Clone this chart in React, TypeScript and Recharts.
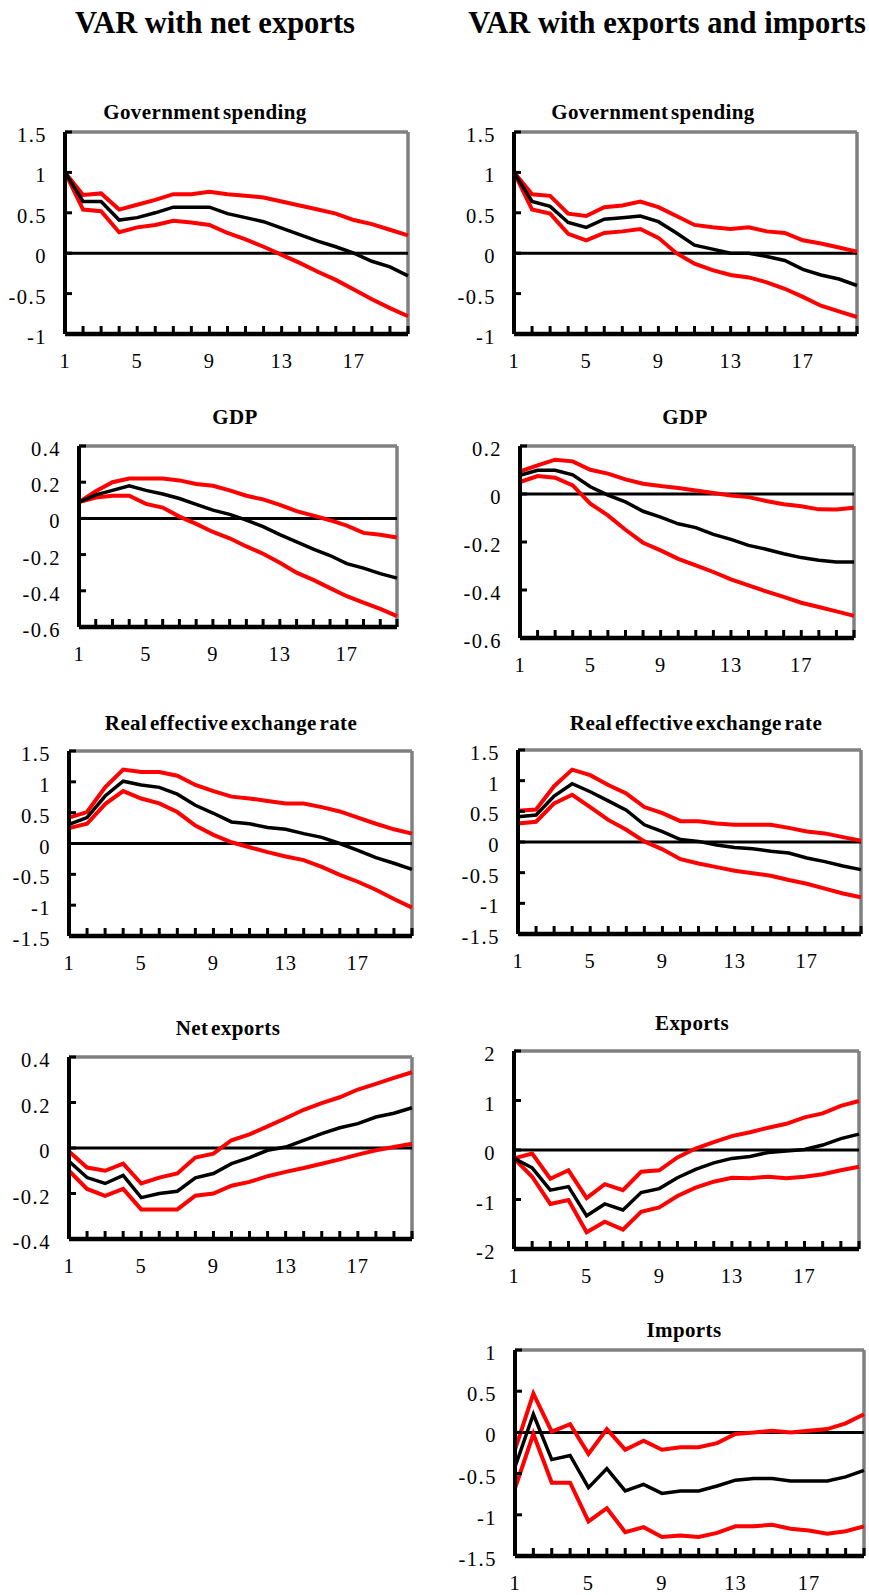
import { LineChart, Line, XAxis, YAxis, ReferenceLine } from 'recharts';

const PERIODS = [1, 2, 3, 4, 5, 6, 7, 8, 9, 10, 11, 12, 13, 14, 15, 16, 17, 18, 19, 20];
const LABELED_PERIODS = [1, 5, 9, 13, 17];

// VAR with net exports
const govNetMid = [1.0, 0.64, 0.64, 0.41, 0.44, 0.5, 0.57, 0.57, 0.57, 0.49, 0.44, 0.39, 0.31, 0.23, 0.15, 0.08, 0.0, -0.1, -0.17, -0.28];
const govNetHi = [1.0, 0.72, 0.74, 0.54, 0.6, 0.66, 0.73, 0.73, 0.76, 0.73, 0.71, 0.69, 0.64, 0.59, 0.54, 0.49, 0.41, 0.36, 0.29, 0.22];
const govNetLo = [1.0, 0.54, 0.52, 0.26, 0.32, 0.35, 0.4, 0.38, 0.35, 0.25, 0.17, 0.08, -0.02, -0.12, -0.23, -0.33, -0.45, -0.57, -0.68, -0.78];

const gdpNetMid = [0.09, 0.13, 0.155, 0.18, 0.155, 0.135, 0.11, 0.077, 0.046, 0.022, -0.01, -0.046, -0.09, -0.13, -0.17, -0.205, -0.25, -0.275, -0.305, -0.33];
const gdpNetHi = [0.09, 0.15, 0.2, 0.22, 0.22, 0.22, 0.21, 0.19, 0.18, 0.155, 0.125, 0.105, 0.075, 0.04, 0.015, -0.01, -0.04, -0.08, -0.09, -0.105];
const gdpNetLo = [0.09, 0.115, 0.125, 0.125, 0.08, 0.06, 0.01, -0.03, -0.075, -0.11, -0.155, -0.195, -0.245, -0.3, -0.34, -0.385, -0.43, -0.465, -0.5, -0.54];

const reerNetMid = [0.31, 0.42, 0.77, 1.01, 0.95, 0.91, 0.8, 0.62, 0.49, 0.35, 0.32, 0.26, 0.23, 0.16, 0.1, 0.0, -0.11, -0.23, -0.32, -0.42];
const reerNetHi = [0.42, 0.51, 0.91, 1.2, 1.16, 1.16, 1.1, 0.95, 0.85, 0.76, 0.73, 0.69, 0.65, 0.65, 0.59, 0.52, 0.42, 0.32, 0.23, 0.16];
const reerNetLo = [0.25, 0.32, 0.64, 0.85, 0.73, 0.65, 0.51, 0.29, 0.14, 0.02, -0.06, -0.14, -0.21, -0.27, -0.38, -0.51, -0.62, -0.75, -0.9, -1.04];

const nxMid = [-0.058, -0.13, -0.156, -0.12, -0.218, -0.2, -0.19, -0.131, -0.112, -0.069, -0.042, -0.01, 0.004, 0.034, 0.063, 0.089, 0.107, 0.136, 0.153, 0.177];
const nxHi = [-0.015, -0.086, -0.1, -0.069, -0.156, -0.13, -0.112, -0.042, -0.025, 0.034, 0.06, 0.095, 0.131, 0.168, 0.197, 0.223, 0.257, 0.282, 0.308, 0.333];
const nxLo = [-0.1, -0.18, -0.21, -0.18, -0.27, -0.27, -0.27, -0.21, -0.2, -0.166, -0.149, -0.124, -0.105, -0.088, -0.069, -0.05, -0.029, -0.01, 0.004, 0.019];

// VAR with exports and imports
const govXmMid = [1.0, 0.64, 0.58, 0.38, 0.32, 0.42, 0.44, 0.46, 0.39, 0.25, 0.1, 0.05, 0.0, 0.0, -0.04, -0.09, -0.2, -0.27, -0.32, -0.4];
const govXmHi = [1.0, 0.73, 0.71, 0.49, 0.46, 0.57, 0.59, 0.64, 0.57, 0.46, 0.35, 0.32, 0.3, 0.32, 0.27, 0.25, 0.16, 0.12, 0.07, 0.02];
const govXmLo = [1.0, 0.54, 0.49, 0.24, 0.16, 0.25, 0.27, 0.3, 0.19, 0.0, -0.13, -0.21, -0.27, -0.3, -0.36, -0.44, -0.54, -0.65, -0.72, -0.79];

const gdpXmMid = [0.078, 0.099, 0.099, 0.08, 0.03, -0.005, -0.033, -0.072, -0.096, -0.124, -0.14, -0.168, -0.189, -0.214, -0.23, -0.249, -0.265, -0.276, -0.283, -0.283];
const gdpXmHi = [0.094, 0.119, 0.143, 0.136, 0.101, 0.085, 0.061, 0.043, 0.033, 0.025, 0.015, 0.004, -0.006, -0.013, -0.029, -0.043, -0.051, -0.064, -0.065, -0.057];
const gdpXmLo = [0.05, 0.075, 0.068, 0.036, -0.04, -0.089, -0.149, -0.203, -0.235, -0.27, -0.297, -0.325, -0.356, -0.381, -0.406, -0.429, -0.453, -0.471, -0.489, -0.508];

const reerXmMid = [0.41, 0.44, 0.75, 0.95, 0.82, 0.67, 0.52, 0.28, 0.17, 0.04, 0.01, -0.05, -0.09, -0.11, -0.15, -0.18, -0.26, -0.32, -0.39, -0.45];
const reerXmHi = [0.51, 0.53, 0.91, 1.18, 1.09, 0.93, 0.79, 0.57, 0.47, 0.34, 0.34, 0.3, 0.28, 0.28, 0.28, 0.23, 0.17, 0.14, 0.08, 0.02];
const reerXmLo = [0.3, 0.33, 0.63, 0.77, 0.57, 0.36, 0.2, 0.01, -0.12, -0.28, -0.35, -0.41, -0.47, -0.51, -0.55, -0.62, -0.68, -0.76, -0.84, -0.9];

const exMid = [-0.17, -0.36, -0.81, -0.74, -1.33, -1.09, -1.21, -0.86, -0.78, -0.56, -0.39, -0.26, -0.17, -0.13, -0.05, -0.02, 0.01, 0.1, 0.23, 0.32];
const exHi = [-0.17, -0.07, -0.58, -0.41, -0.97, -0.69, -0.81, -0.44, -0.41, -0.15, 0.03, 0.16, 0.28, 0.36, 0.45, 0.53, 0.66, 0.74, 0.89, 0.99];
const exLo = [-0.17, -0.54, -1.09, -1.01, -1.66, -1.45, -1.61, -1.25, -1.16, -0.93, -0.76, -0.64, -0.56, -0.57, -0.54, -0.57, -0.54, -0.49, -0.41, -0.34];

const imMid = [-0.42, 0.22, -0.33, -0.28, -0.67, -0.44, -0.71, -0.63, -0.74, -0.71, -0.71, -0.65, -0.58, -0.56, -0.56, -0.59, -0.59, -0.59, -0.54, -0.46];
const imHi = [-0.21, 0.47, 0.01, 0.1, -0.26, 0.04, -0.21, -0.1, -0.21, -0.18, -0.18, -0.13, -0.02, 0.0, 0.02, 0.0, 0.02, 0.04, 0.11, 0.22];
const imLo = [-0.68, -0.02, -0.61, -0.61, -1.08, -0.92, -1.21, -1.15, -1.27, -1.25, -1.27, -1.22, -1.14, -1.14, -1.12, -1.17, -1.19, -1.23, -1.2, -1.14];

const TICKS_GOV = [-1, -0.5, 0, 0.5, 1, 1.5];
const TICKS_GDP_NET = [-0.6, -0.4, -0.2, 0, 0.2, 0.4];
const TICKS_GDP_XM = [-0.6, -0.4, -0.2, 0, 0.2];
const TICKS_REER = [-1.5, -1, -0.5, 0, 0.5, 1, 1.5];
const TICKS_NX = [-0.4, -0.2, 0, 0.2, 0.4];
const TICKS_EX = [-2, -1, 0, 1, 2];
const TICKS_IM = [-1.5, -1, -0.5, 0, 0.5, 1];

const FONT = '"Liberation Serif", "Times New Roman", serif';
const RED = '#ff0000';
const GRAY = '#808080';

const ML = 60;
const MT = 8;
const MR = 4;
const MB = 45;

interface Panel {
  title: string;
  mid: number[];
  hi: number[];
  lo: number[];
  ticks: number[];
  // plot box and title centre, in page pixels
  x: number;
  y: number;
  w: number;
  h: number;
  tx: number;
  ty: number;
}

const panels: Panel[] = [
  { title: 'Government spending', mid: govNetMid, hi: govNetHi, lo: govNetLo, ticks: TICKS_GOV, x: 65, y: 132, w: 343, h: 202, tx: 205, ty: 112 },
  { title: 'GDP', mid: gdpNetMid, hi: gdpNetHi, lo: gdpNetLo, ticks: TICKS_GDP_NET, x: 79, y: 446, w: 318, h: 181, tx: 235, ty: 417 },
  { title: 'Real effective exchange rate', mid: reerNetMid, hi: reerNetHi, lo: reerNetLo, ticks: TICKS_REER, x: 69, y: 751, w: 343, h: 185, tx: 231, ty: 723 },
  { title: 'Net exports', mid: nxMid, hi: nxHi, lo: nxLo, ticks: TICKS_NX, x: 69, y: 1057, w: 343, h: 182, tx: 228, ty: 1028 },
  { title: 'Government spending', mid: govXmMid, hi: govXmHi, lo: govXmLo, ticks: TICKS_GOV, x: 514, y: 132, w: 343, h: 202, tx: 653, ty: 112 },
  { title: 'GDP', mid: gdpXmMid, hi: gdpXmHi, lo: gdpXmLo, ticks: TICKS_GDP_XM, x: 520, y: 446, w: 334, h: 192, tx: 685, ty: 417 },
  { title: 'Real effective exchange rate', mid: reerXmMid, hi: reerXmHi, lo: reerXmLo, ticks: TICKS_REER, x: 518, y: 750, w: 343, h: 184, tx: 696, ty: 723 },
  { title: 'Exports', mid: exMid, hi: exHi, lo: exLo, ticks: TICKS_EX, x: 514, y: 1051, w: 345, h: 198, tx: 692, ty: 1023 },
  { title: 'Imports', mid: imMid, hi: imHi, lo: imLo, ticks: TICKS_IM, x: 515, y: 1350, w: 349, h: 206, tx: 684, ty: 1330 },
];

function XTick(props: any) {
  const { x, y, payload } = props;
  const show = LABELED_PERIODS.includes(payload.value);
  return (
    <g>
      <line x1={x} x2={x} y1={y} y2={y - 8} stroke="#000" strokeWidth={3} />
      {show && (
        <text x={x} y={y + 34} textAnchor="middle" fontFamily={FONT} fontSize={20.5} letterSpacing={1} fill="#000">
          {payload.value}
        </text>
      )}
    </g>
  );
}

function YTick(props: any) {
  const { x, y, payload } = props;
  return (
    <g>
      <line x1={x} x2={x + 7} y1={y} y2={y} stroke="#000" strokeWidth={3} />
      <text x={x - 18} y={y + 10} textAnchor="end" fontFamily={FONT} fontSize={20.5} letterSpacing={1.5} fill="#000">
        {String(payload.value)}
      </text>
    </g>
  );
}

function IrfPanel({ p }: { p: Panel }) {
  const rows = PERIODS.map((t, i) => ({ t, mid: p.mid[i], hi: p.hi[i], lo: p.lo[i] }));
  const lo = p.ticks[0] as number;
  const hi = p.ticks[p.ticks.length - 1] as number;
  return (
    <div style={{ position: 'absolute', left: p.x - ML, top: p.y - MT }}>
      <LineChart
        width={p.w + ML + MR}
        height={p.h + MT + MB}
        data={rows}
        margin={{ top: MT, right: MR, bottom: 0, left: 0 }}
      >
        <ReferenceLine y={hi} stroke={GRAY} strokeWidth={3.5} />
        <ReferenceLine x={20} stroke={GRAY} strokeWidth={3.5} />
        <XAxis
          type="number"
          dataKey="t"
          domain={[1, 20]}
          ticks={PERIODS}
          interval={0}
          height={MB}
          tickSize={0}
          tickMargin={0}
          tickLine={false}
          axisLine={{ stroke: '#000', strokeWidth: 4.5 }}
          tick={<XTick />}
        />
        <YAxis
          type="number"
          domain={[lo, hi]}
          ticks={p.ticks}
          interval={0}
          width={ML}
          tickSize={0}
          tickMargin={0}
          tickLine={false}
          axisLine={{ stroke: '#000', strokeWidth: 4 }}
          tick={<YTick />}
        />
        <ReferenceLine y={0} stroke="#000" strokeWidth={3} />
        <Line type="linear" dataKey="hi" stroke={RED} strokeWidth={4} dot={false} isAnimationActive={false} />
        <Line type="linear" dataKey="lo" stroke={RED} strokeWidth={4} dot={false} isAnimationActive={false} />
        <Line type="linear" dataKey="mid" stroke="#000" strokeWidth={3.5} dot={false} isAnimationActive={false} />
      </LineChart>
    </div>
  );
}

export default function App() {
  return (
    <div
      style={{
        position: 'absolute',
        left: 0,
        top: 0,
        width: 869,
        height: 1595,
        overflow: 'hidden',
        background: '#fff',
        fontFamily: FONT,
      }}
    >
      {panels.map((p, i) => (
        <IrfPanel key={i} p={p} />
      ))}
      <svg width={869} height={1595} style={{ position: 'absolute', left: 0, top: 0, pointerEvents: 'none' }}>
        <text x={215} y={33} textAnchor="middle" fontFamily={FONT} fontWeight="bold" fontSize={30.5} fill="#000">
          VAR with net exports
        </text>
        <text x={667} y={33} textAnchor="middle" fontFamily={FONT} fontWeight="bold" fontSize={30.5} fill="#000">
          VAR with exports and imports
        </text>
        {panels.map((p, i) => (
          <text
            key={i}
            x={p.tx}
            y={p.ty + 7}
            textAnchor="middle"
            fontFamily={FONT}
            fontWeight="bold"
            fontSize={21}
            letterSpacing={0.4}
            wordSpacing={-3}
            fill="#000"
          >
            {p.title}
          </text>
        ))}
      </svg>
    </div>
  );
}
